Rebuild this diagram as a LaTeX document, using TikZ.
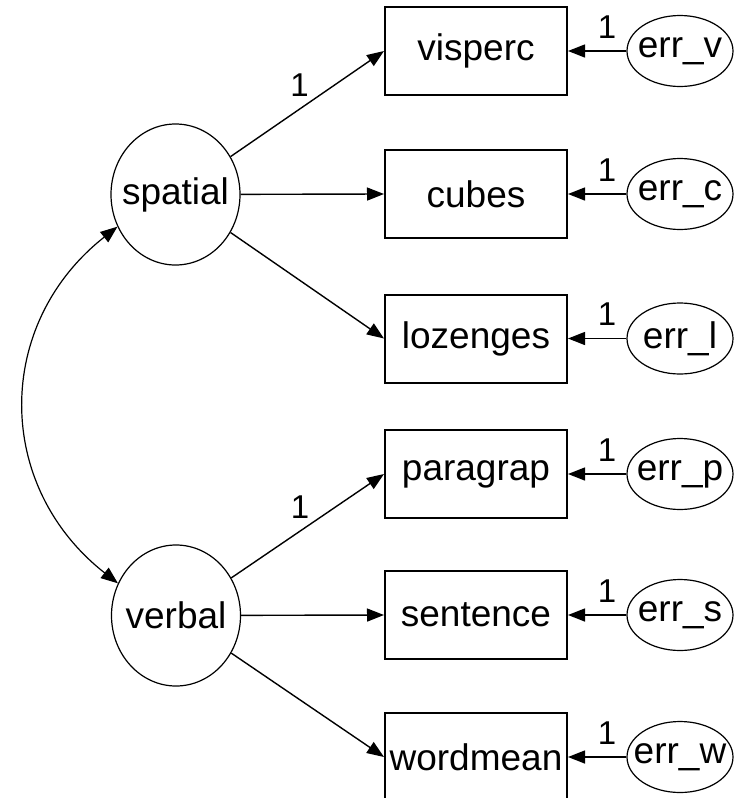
\documentclass[tikz,border=0pt]{standalone}
\usepackage{fontspec}
\setmainfont{Liberation Sans}
\usepackage{tikz}
\usetikzlibrary{positioning,shapes.geometric,arrows.meta}

\newcommand{\nolbl}[1]{\makebox[0pt]{#1}}
\tikzset{
  latent/.style={ellipse,draw,line width=0.6pt,minimum width=64.5pt,minimum height=70.5pt,inner sep=0pt},
  observed/.style={rectangle,draw,line width=1pt,minimum width=91pt,minimum height=44pt,inner sep=0pt},
  errvar/.style={ellipse,draw,line width=0.6pt,minimum width=53pt,minimum height=35.5pt,inner sep=0pt},
  weight/.style={font=\fontsize{16.5}{19}\selectfont,inner sep=1pt},
}

\begin{document}
\begin{tikzpicture}[x=0.5pt,y=-0.5pt,line width=0.7pt,
    >={Triangle[length=8.5pt,width=6.5pt]},font=\fontsize{18.5}{22}\selectfont]
    \clip (0,0) rectangle (735,798);
    \node[latent] (spatial) at (175.5,194.5) {\nolbl{spatial}};
    \node[latent] (verbal) at (176,615.5) {\nolbl{verbal}};
    \node[observed] (visperc) at (476,51) {visperc};
    \node[observed] (cubes) at (476,194) {cubes};
    \node[observed] (lozenges) at (476,338.5) {lozenges};
    \node[observed] (paragrap) at (476,474) {paragrap};
    \node[observed] (sentence) at (476,615) {sentence};
    \node[observed] (wordmean) at (476,757) {wordmean};
    \node[errvar,on grid,right=102pt of visperc] (errV) {\nolbl{err\_v}};
    \node[errvar,on grid,right=102pt of cubes] (errC) {\nolbl{err\_c}};
    \node[errvar,on grid,right=102pt of lozenges] (errL) {\nolbl{err\_l}};
    \node[errvar,on grid,right=102pt of paragrap] (errP) {\nolbl{err\_p}};
    \node[errvar,on grid,right=102pt of sentence] (errS) {\nolbl{err\_s}};
    \node[errvar,on grid,right=102pt of wordmean] (errW) {\nolbl{err\_w}};
    % loadings
    \draw[->] (spatial) -- node[weight,pos=0.45,above=5pt] {1} (visperc.west);
    \draw[->] (spatial) -- (cubes.west);
    \draw[->] (spatial) -- (lozenges.west);
    \draw[->] (verbal) -- node[weight,pos=0.45,above=5pt] {1} (paragrap.west);
    \draw[->] (verbal) -- (sentence.west);
    \draw[->] (verbal) -- (wordmean.west);
    % error terms
    \draw[->] (errV) -- node[weight,pos=0.33,above=5pt] {1} (visperc);
    \draw[->] (errC) -- node[weight,pos=0.33,above=5pt] {1} (cubes);
    \draw[->] (errL) -- node[weight,pos=0.33,above=5pt] {1} (lozenges);
    \draw[->] (errP) -- node[weight,pos=0.33,above=5pt] {1} (paragrap);
    \draw[->] (errS) -- node[weight,pos=0.33,above=5pt] {1} (sentence);
    \draw[->] (errW) -- node[weight,pos=0.33,above=5pt] {1} (wordmean);
    % covariance
    \draw[<->,line width=0.6pt] (spatial.209) .. controls (-6,324) and (-6,486) .. (verbal.151);
\end{tikzpicture}
\end{document}
